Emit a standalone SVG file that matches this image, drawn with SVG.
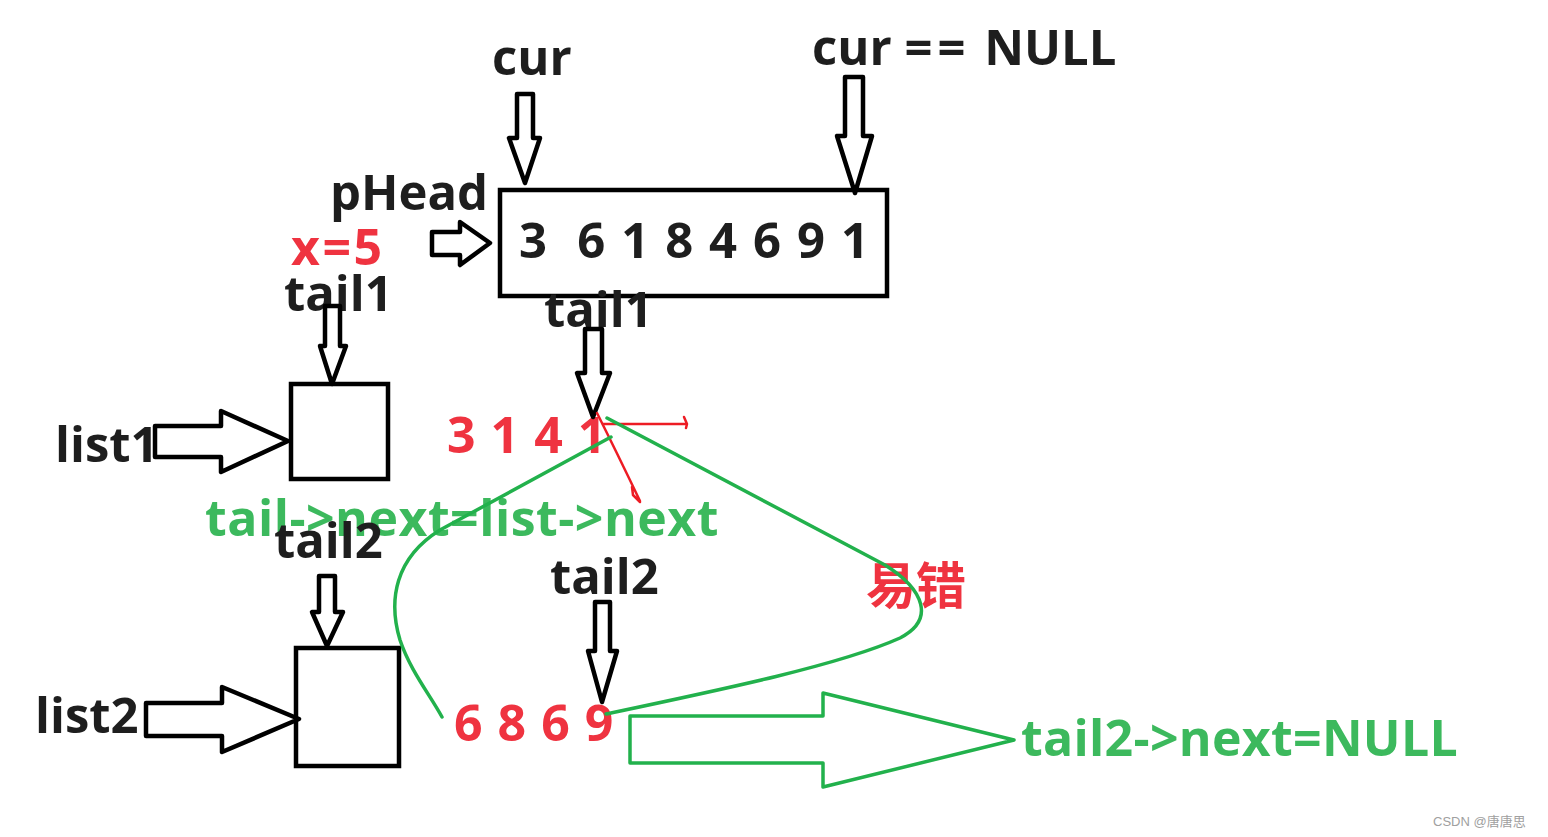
<svg xmlns="http://www.w3.org/2000/svg" width="1548" height="837" viewBox="0 0 1548 837">
<style>
  text { font-family: "Open Sans", "Noto Sans", "Noto Sans CJK SC", sans-serif; font-weight: 700; }
  .lbl { fill: #1e1e1e; font-size: 49px; }
  .red { fill: #ef3340; font-size: 50px; }
  .grn { fill: #3cb95d; font-size: 50px; }
  .arr { fill: #ffffff; stroke: #000000; stroke-width: 4.5; stroke-linejoin: round; }
  .box { fill: none; stroke: #000000; stroke-width: 4.5; }
  .gline { fill: none; stroke: #22b14c; stroke-width: 3.5; stroke-linejoin: round; stroke-linecap: round; }
  .rline { fill: none; stroke: #ed1c24; stroke-width: 2.5; stroke-linejoin: round; stroke-linecap: round; }
  .cjk { font-family: "Noto Sans CJK SC", "Noto Sans", sans-serif; }
</style>
<rect width="1548" height="837" fill="#ffffff"/>

<g id="pHead-list">
  <rect class="box" x="500" y="190" width="387" height="106"/>
  <text class="lbl" x="519" y="258" font-size="51" letter-spacing="1.6" style="white-space:pre">3  6 1 8 4 6 9 1</text>
</g>
<g id="label-cur">
  <text class="lbl" x="492" y="75" font-size="48">cur</text>
</g>
<g id="label-cur-null">
  <text class="lbl" x="812" y="65" font-size="50" style="white-space:pre">cur =<tspan dx="5">=</tspan> <tspan dx="6">NULL</tspan></text>
</g>
<g id="label-pHead">
  <text class="lbl" x="330" y="210" font-size="48">pHead</text>
</g>
<g id="label-x5">
  <text class="red" x="291" y="265" letter-spacing="2.5">x=5</text>
</g>
<g id="label-tail1-left">
  <text class="lbl" x="284" y="311" font-size="48">tail1</text>
</g>
<g id="label-tail1-mid">
  <text class="lbl" x="544" y="327" font-size="48">tail1</text>
</g>
<g id="label-list1">
  <text class="lbl" x="55" y="462" font-size="47">list1</text>
</g>
<g id="list1-box">
  <rect class="box" x="291" y="384" width="97" height="95"/>
</g>
<g id="values-3141">
  <text class="red" x="447" y="453" letter-spacing="1" style="white-space:pre">3 1 4 1</text>
</g>
<g id="label-green-next">
  <text class="grn" x="205" y="536" letter-spacing="0.5">tail-&gt;next=list-&gt;next</text>
</g>
<g id="label-tail2-left">
  <text class="lbl" x="274" y="558" font-size="48">tail2</text>
</g>
<g id="label-tail2-mid">
  <text class="lbl" x="550" y="594" font-size="48">tail2</text>
</g>
<g id="label-list2">
  <text class="lbl" x="35" y="733" font-size="46">list2</text>
</g>
<g id="list2-box">
  <rect class="box" x="296" y="648" width="103" height="118"/>
</g>
<g id="values-6869">
  <text class="red" x="454" y="741" letter-spacing="1" style="white-space:pre">6 8 6 9</text>
</g>
<g id="label-error">
  <text class="red cjk" x="866" y="604" font-size="46">易错</text>
</g>
<g id="label-tail2-null">
  <text class="grn" x="1021" y="756" letter-spacing="0.3">tail2-&gt;next=NULL</text>
</g>

<g id="connectors">
  <!-- black down arrows -->
  <polygon class="arr" points="517,94 533,94 533,138 540,138 525,183 509,138 517,138"/>
  <polygon class="arr" points="845,77 863,77 863,136 872,136 855,193 837,136 845,136"/>
  <polygon class="arr" points="325,306 340,306 340,346 346,346 332,384 320,346 325,346"/>
  <polygon class="arr" points="585,329 602,329 602,373 610,373 593,417 577,373 585,373"/>
  <polygon class="arr" points="319,576 335,576 335,612 343,612 327,646 312,612 319,612"/>
  <polygon class="arr" points="595,602 610,602 610,651 617,651 602,702 588,651 595,651"/>
  <!-- black right arrows -->
  <polygon class="arr" points="432,232 460,232 460,222 490,243 460,265 460,255 432,255"/>
  <polygon class="arr" points="155,426 221,426 221,411 288,441 221,472 221,457 155,457"/>
  <polygon class="arr" points="146,703 222,703 222,687 299,719 222,752 222,736 146,736"/>
  <!-- red strokes -->
  <path class="rline" stroke-width="3.2" d="M603,424 L687,424 M684,417 L687,424 L686,428"/>
  <path class="rline" d="M597,413 Q618,455 640,501 M632,487 L633,495 L640,502"/>
  <!-- green curves -->
  <path class="gline" d="M611,437 L440,530 C395,558 388,600 400,640 C410,670 430,695 442,717"/>
  <path class="gline" d="M607,418 L885,565 C925,590 935,620 900,638 C840,665 720,690 606,714"/>
  <!-- big green arrow -->
  <polygon class="gline" points="630,716 823,716 823,693 1014,740 823,787 823,763 630,763"/>
</g>

<text x="1433" y="826" font-size="13" fill="#a0a0a0" style="font-family: 'Liberation Sans', 'Noto Sans CJK SC', sans-serif; font-weight:400">CSDN @唐唐思</text>
</svg>
